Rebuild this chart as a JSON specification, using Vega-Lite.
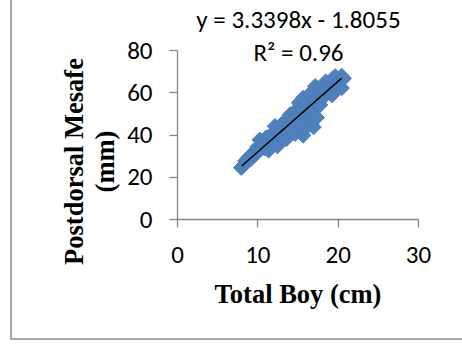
{
  "$schema": "https://vega.github.io/schema/vega-lite/v6.json",
  "autosize": "none",
  "width": 241,
  "height": 169,
  "padding": {"left": 177, "top": 50, "right": 44, "bottom": 128},
  "background": "white",
  "config": {
    "view": {"stroke": null},
    "axis": {
      "grid": false,
      "labelFlush": false,
      "domainColor": "#868686",
      "domainWidth": 1.3,
      "tickColor": "#868686",
      "tickWidth": 1.3,
      "tickSize": 8,
      "labelFont": "Carlito, Calibri, Liberation Sans, sans-serif",
      "labelFontSize": 25,
      "labelColor": "#000000",
      "titleFont": "Liberation Serif, Times New Roman, serif",
      "titleFontSize": 26.5,
      "titleFontWeight": "bold",
      "titleColor": "#000000"
    }
  },
  "datasets": {
    "fish": [
      {"boy": 8.0, "mesafe": 24.3},
      {"boy": 8.3, "mesafe": 25.5},
      {"boy": 8.5, "mesafe": 27.5},
      {"boy": 8.8, "mesafe": 27.5},
      {"boy": 9.0, "mesafe": 29.5},
      {"boy": 9.2, "mesafe": 28.5},
      {"boy": 9.4, "mesafe": 31.0},
      {"boy": 9.6, "mesafe": 30.0},
      {"boy": 9.9, "mesafe": 31.7},
      {"boy": 10.0, "mesafe": 34.0},
      {"boy": 10.3, "mesafe": 37.5},
      {"boy": 10.4, "mesafe": 33.0},
      {"boy": 10.7, "mesafe": 35.5},
      {"boy": 10.9, "mesafe": 33.5},
      {"boy": 11.1, "mesafe": 38.5},
      {"boy": 11.2, "mesafe": 36.0},
      {"boy": 11.4, "mesafe": 32.5},
      {"boy": 11.6, "mesafe": 39.5},
      {"boy": 11.8, "mesafe": 36.0},
      {"boy": 12.0, "mesafe": 41.0},
      {"boy": 12.2, "mesafe": 43.9},
      {"boy": 12.2, "mesafe": 37.0},
      {"boy": 12.5, "mesafe": 34.5},
      {"boy": 12.6, "mesafe": 40.0},
      {"boy": 12.9, "mesafe": 42.5},
      {"boy": 13.1, "mesafe": 38.5},
      {"boy": 13.2, "mesafe": 45.5},
      {"boy": 13.4, "mesafe": 43.0},
      {"boy": 13.65, "mesafe": 38.0},
      {"boy": 13.8, "mesafe": 47.0},
      {"boy": 14.0, "mesafe": 44.0},
      {"boy": 14.07, "mesafe": 49.4},
      {"boy": 14.3, "mesafe": 42.0},
      {"boy": 14.5, "mesafe": 47.0},
      {"boy": 14.7, "mesafe": 40.4},
      {"boy": 14.8, "mesafe": 51.5},
      {"boy": 15.0, "mesafe": 48.5},
      {"boy": 15.2, "mesafe": 55.0},
      {"boy": 15.3, "mesafe": 45.0},
      {"boy": 15.5, "mesafe": 52.0},
      {"boy": 15.7, "mesafe": 57.3},
      {"boy": 15.7, "mesafe": 39.6},
      {"boy": 15.9, "mesafe": 49.0},
      {"boy": 16.0, "mesafe": 43.0},
      {"boy": 16.2, "mesafe": 54.5},
      {"boy": 16.4, "mesafe": 46.5},
      {"boy": 16.6, "mesafe": 59.5},
      {"boy": 16.7, "mesafe": 51.0},
      {"boy": 17.0, "mesafe": 43.5},
      {"boy": 17.1, "mesafe": 56.0},
      {"boy": 17.2, "mesafe": 62.8},
      {"boy": 17.4, "mesafe": 48.0},
      {"boy": 17.5, "mesafe": 59.0},
      {"boy": 17.8, "mesafe": 54.0},
      {"boy": 18.0, "mesafe": 62.0},
      {"boy": 18.2, "mesafe": 57.5},
      {"boy": 18.5, "mesafe": 65.0},
      {"boy": 18.7, "mesafe": 60.5},
      {"boy": 19.0, "mesafe": 63.5},
      {"boy": 19.3, "mesafe": 58.7},
      {"boy": 19.4, "mesafe": 66.5},
      {"boy": 19.7, "mesafe": 67.5},
      {"boy": 19.9, "mesafe": 62.5},
      {"boy": 20.2, "mesafe": 65.0},
      {"boy": 20.5, "mesafe": 67.7},
      {"boy": 20.5, "mesafe": 62.0},
      {"boy": 20.75, "mesafe": 66.5}
    ],
    "trend": [
      {"boy": 8.05, "mesafe": 25.08},
      {"boy": 20.5, "mesafe": 66.66}
    ]
  },
  "layer": [
    {
      "data": {"name": "fish"},
      "mark": {"type": "point", "shape": "diamond", "filled": true, "size": 240, "opacity": 1, "color": "#4F81BD", "stroke": "#4A7EBB", "strokeWidth": 1},
      "encoding": {
        "x": {
          "field": "boy", "type": "quantitative",
          "scale": {"domain": [0, 30], "nice": false},
          "axis": {"values": [0, 10, 20, 30], "title": "Total Boy (cm)", "labelPadding": 15, "titleX": 120.5, "titleY": 83, "titleBaseline": "alphabetic", "titleAlign": "center"}
        },
        "y": {
          "field": "mesafe", "type": "quantitative",
          "scale": {"domain": [0, 80], "nice": false},
          "axis": {"values": [0, 20, 40, 60, 80], "title": ["Postdorsal Mesafe", "(mm)"], "labelPadding": 17, "titleX": -95, "titleY": 111, "titleAngle": -90, "titleBaseline": "alphabetic", "titleAlign": "center", "titleLineHeight": 31}
        }
      }
    },
    {
      "data": {"name": "trend"},
      "mark": {"type": "line", "color": "#000000", "strokeWidth": 1.5},
      "encoding": {
        "x": {"field": "boy", "type": "quantitative"},
        "y": {"field": "mesafe", "type": "quantitative"}
      }
    },
    {
      "data": {"values": [{}]},
      "mark": {"type": "text", "text": ["y = 3.3398x - 1.8055", "R² = 0.96"], "font": "Carlito, Calibri, Liberation Sans, sans-serif", "fontSize": 25, "align": "center", "baseline": "alphabetic", "lineHeight": 33, "color": "#000000"},
      "encoding": {
        "x": {"datum": 15.12, "type": "quantitative"},
        "y": {"datum": 90.4, "type": "quantitative"}
      }
    },
    {
      "data": {"values": [{}]},
      "mark": {"type": "rect", "fill": null, "stroke": "#8C8C8C", "strokeWidth": 1.5},
      "encoding": {
        "x": {"value": -166},
        "x2": {"value": 300},
        "y": {"value": -60},
        "y2": {"value": 289}
      }
    }
  ]
}
